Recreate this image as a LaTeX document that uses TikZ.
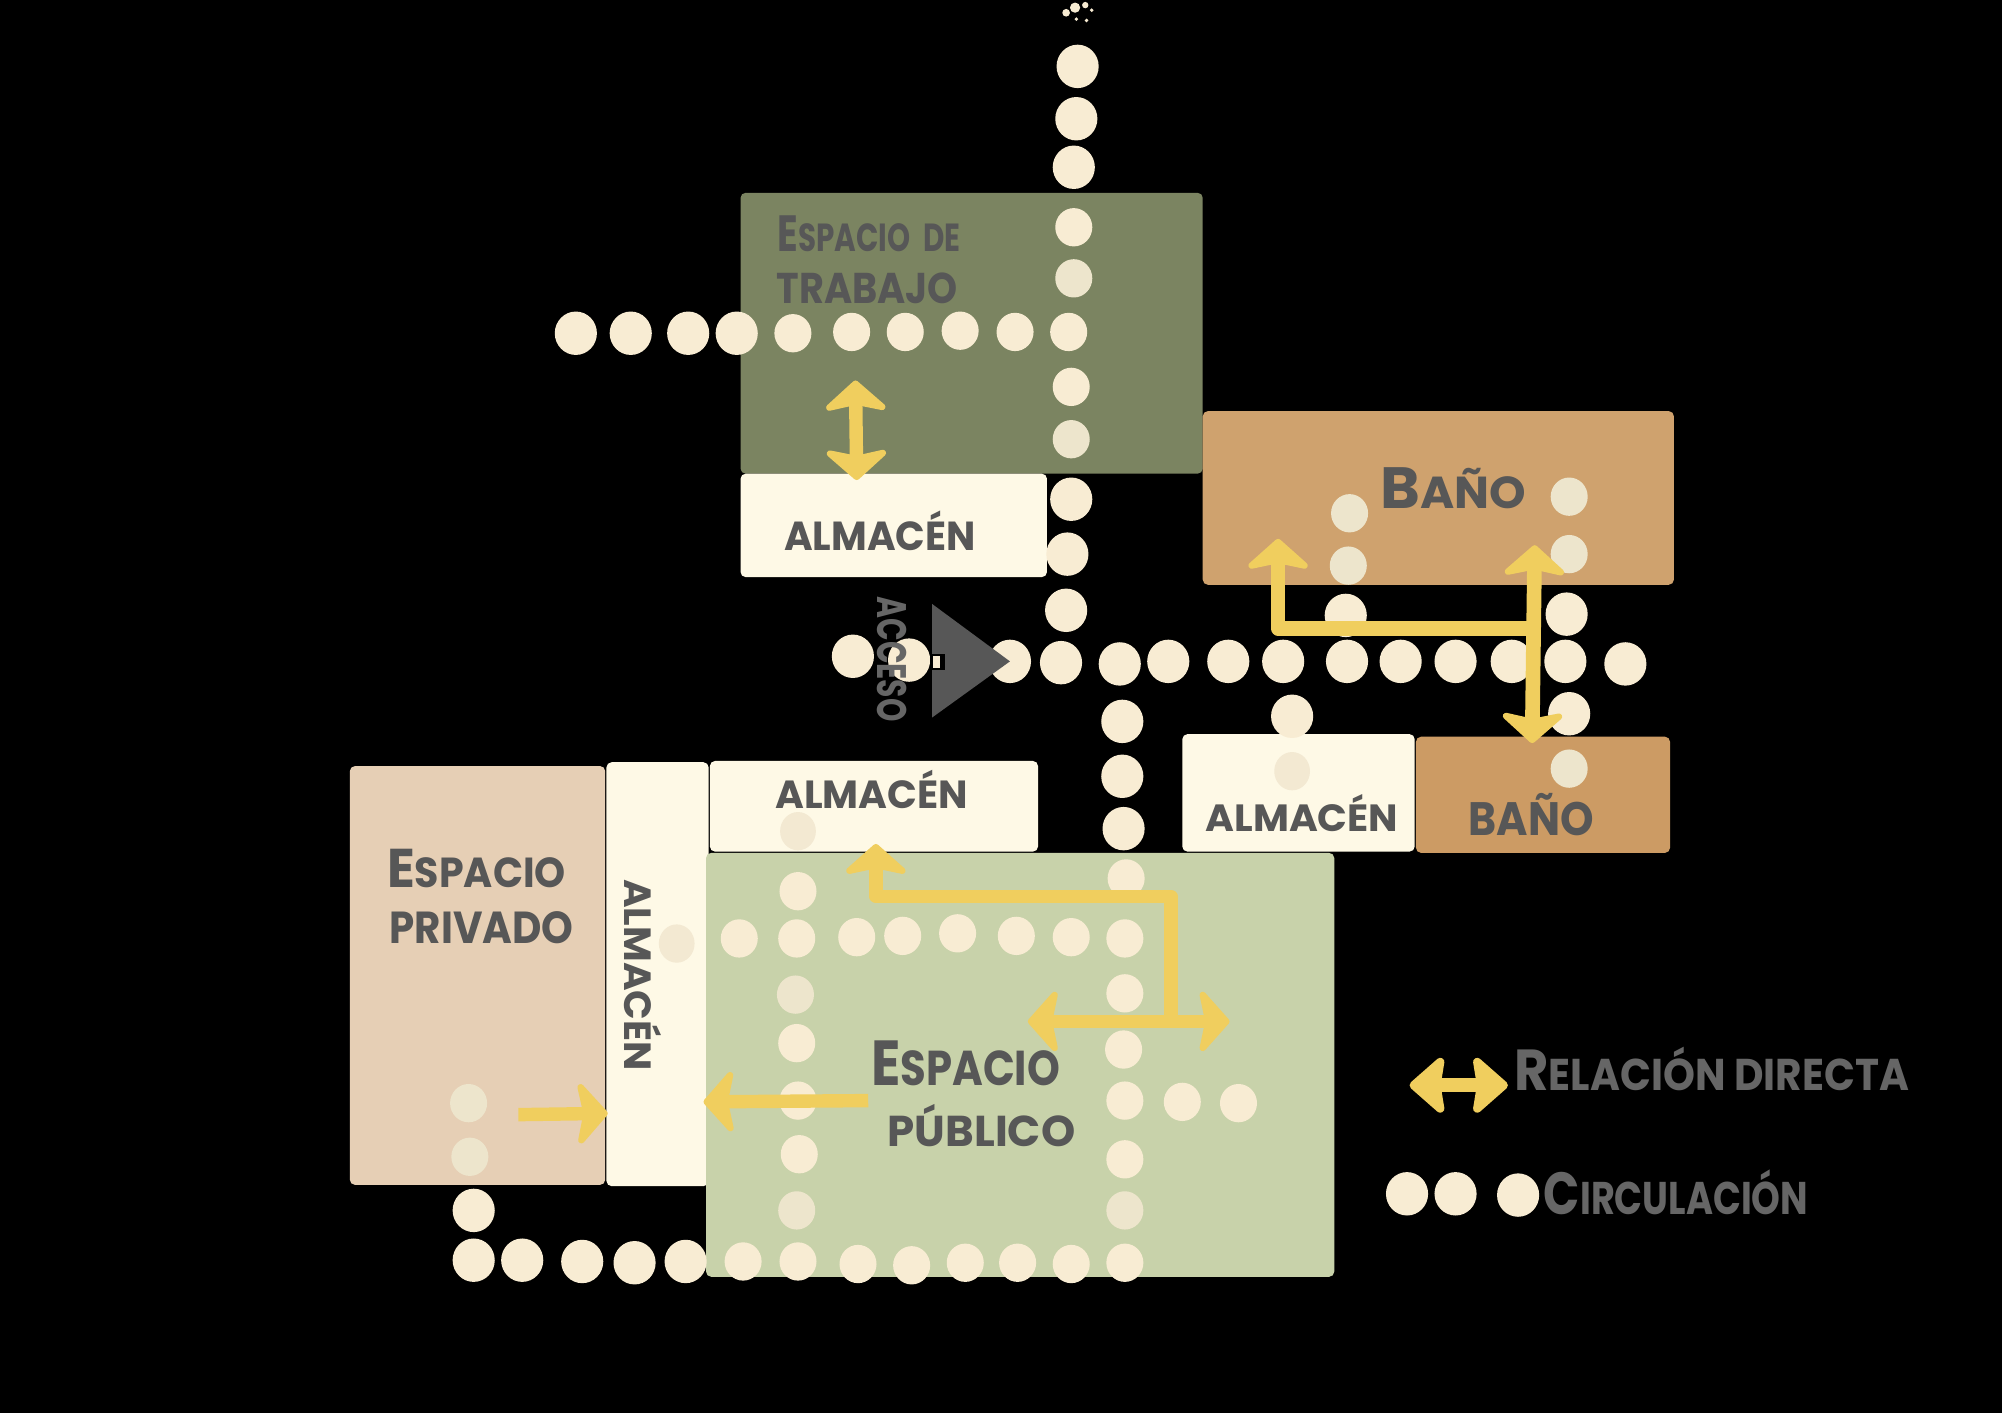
\documentclass[tikz,border=0pt]{standalone}
\usepackage{fontspec}
\usepackage{graphicx}
\setmainfont{Poppins}
\usetikzlibrary{arrows.meta}
\definecolor{trabajo}{HTML}{7B8461}
\definecolor{banoa}{HTML}{CFA26E}
\definecolor{banob}{HTML}{CC9B64}
\definecolor{almacen}{HTML}{FEF9E6}
\definecolor{privado}{HTML}{E6CFB5}
\definecolor{publico}{HTML}{C8D2AA}
\definecolor{dotc}{HTML}{F8ECD3}
\definecolor{dotb}{HTML}{EDE5CC}
\definecolor{dotf}{HTML}{F3E9D2}
\definecolor{arrowc}{HTML}{F0CE5E}
\definecolor{inkc}{HTML}{575757}
\definecolor{inkg}{HTML}{666666}
\newcommand\capl[1]{{\fontsize{13}{13}\selectfont #1}}
% \hand{name}{x}{baseline y}{width}{height}{rotation}{colour}{text}
\newcommand\hand[8]{\node[handtext,text=#7,rotate=#6] (#1) at (#2,#3) {\resizebox{#4pt}{#5pt}{\bfseries #8}};}
\tikzset{
  x=1pt,y=-1pt,
  room/.style={rounded corners=4pt},
  handtext/.style={inner sep=0pt,anchor=base west},
  dotout/.style={fill=dotc},
  relhead/.tip={Stealth[round,length=26pt,width=58pt,inset=6pt]},
  keyhead/.tip={Stealth[round,length=30pt,width=52pt,inset=4pt]},
  rel/.style={draw=arrowc,line width=10.5pt,line join=round,arrows={-relhead}},
  relboth/.style={draw=arrowc,line width=10.5pt,arrows={relhead-relhead}},
  relkey/.style={draw=arrowc,line width=11pt,arrows={keyhead-keyhead}}
}
\begin{document}
\begin{tikzpicture}
\useasboundingbox (0,0) rectangle (1568,1107);
\fill[black] (0,0) rectangle (1568,1107);
% rooms
\fill[room,trabajo] (580,151) rectangle (942,371);
\fill[room,banoa] (942,322) rectangle (1311,458);
\fill[room,almacen] (580,371) rectangle (820,452);
\fill[room,almacen] (926,575) rectangle (1108,667);
\fill[room,banob] (1109,577) rectangle (1308,668);
\fill[room,privado] (274,600) rectangle (474,928);
\fill[room,almacen] (475,597) rectangle (555,929);
\fill[room,almacen] (556,596) rectangle (813,667);
\fill[room,publico] (553,668) rectangle (1045,1000);
% circulation dots on the black ground
\foreach \p in {
 (844,52),(843,93),(841,131),(839,391),(836,434),(835,478),
 (451,261),(494,261),(539,261),(577,261),
 (668,514),(712,517),(791,518),(831,519),(877,520),(915,518),(962,518),(1005,518),(1055,518),(1097,518),(1140,518),(1184,518),(1226,518),(1273,520),
 (1054,482),(1227,481),(1012,561),(1229,559),
 (879,565),(879,608),(880,649),
 (371,948),(371,987),(409,987),(456,988),(497,989),(537,988),
 (1102,935),(1140,935),(1189,936)}
 {\fill[dotout] \p ellipse [x radius=16.5pt,y radius=17pt];}
% circulation dots inside the rooms
\foreach \p in {
 (841,178),(621,261),(667,260),(709,260),(752,259),(795,260),(837,260),(839,303),
 (579,735),(624,735),(671,734),(707,733),(750,731),(796,733),(839,734),(881,735),
 (625,698),(624,817),(625,862),(626,904),
 (881,778),(880,822),(881,862),(881,908),(882,688),
 (926,863),(970,864),
 (582,988),(625,988),(672,990),(714,991),(756,989),(797,989),(839,990),(881,989)}
 {\fill[dotc] \p ellipse [x radius=14.5pt,y radius=15pt];}
\foreach \p in {(841,218),(839,344),(1057,402),(1056,443),(1229,389),(1229,434),(1229,602),(623,779),(624,948),(881,948),(367,864),(368,906)}
 {\fill[dotb] \p ellipse [x radius=14.5pt,y radius=15pt];}
\foreach \p in {(1012,604),(530,739),(625,651)}
 {\fill[dotf] \p ellipse [x radius=14pt,y radius=15pt];}
% specks at the top edge
\foreach \p/\r in {(835,10)/3,(842,6)/4,(850,4)/2.5,(855,8)/1.5,(843,15)/1.5,(851,16)/1.5}
 {\fill[dotout] \p circle [radius=\r pt];}
% access triangle
\fill[inkc] (730,473) -- (791,518) -- (730,562) -- cycle;
\fill[black] (728,512) rectangle (740,525);
\fill[dotc] (731,514) rectangle (736,523);
% direct relation arrows
\coordinate (ta) at (670,298);
\coordinate (tb) at (671,376);
\draw[relboth] (ta) -- (tb);
\coordinate (ba) at (1001,422);
\coordinate (bb) at (1001,492);
\coordinate (bc) at (1201,492);
\coordinate (bd) at (1202,427);
\coordinate (be) at (1200,582);
\draw[rel,line width=11.5pt] (bc) -- (bb) -- (ba);
\draw[relboth,line width=11.5pt] (bd) -- (be);
\coordinate (pa) at (917,800);
\coordinate (pb) at (917,702);
\coordinate (pc) at (686,702);
\coordinate (pd) at (686,661);
\draw[rel] (pa) -- (pb) -- (pc) -- (pd);
\coordinate (qa) at (805,800);
\coordinate (qb) at (963,800);
\draw[relboth] (qa) -- (qb);
\coordinate (ra) at (680,862);
\coordinate (rb) at (551,863);
\draw[rel] (ra) -- (rb);
\coordinate (sa) at (406,873);
\coordinate (sb) at (476,872);
\draw[rel] (sa) -- (sb);
\coordinate (ka) at (1104,850);
\coordinate (kb) at (1181,850);
\draw[relkey] (ka) -- (kb);
% labels
\hand{t1}{609}{197}{143}{28}{0}{inkc}{\capl{E}SPACIO\ \ DE}
\hand{t2}{608}{238}{142}{24}{0}{inkc}{TRABAJO}
\hand{a1}{614}{431}{150}{31}{0}{inkc}{ALMACÉN}
\hand{b1}{1081}{398}{114}{32}{0}{inkc}{\capl{B}AÑO}
\hand{a2}{607}{633}{151}{30}{0}{inkc}{ALMACÉN}
\hand{a3}{944}{651}{151}{29}{0}{inkc}{ALMACÉN}
\hand{b2}{1150}{654}{98}{33}{0}{inkc}{BAÑO}
\hand{v1}{303}{695}{140}{30}{0}{inkc}{\capl{E}SPACIO}
\hand{v2}{305}{739}{144}{25}{0}{inkc}{PRIVADO}
\hand{a4}{489}{688.5}{150}{29}{-90}{inkc}{ALMACÉN}
\hand{u1}{682}{850}{148}{35}{0}{inkc}{\capl{E}SPACIO}
\hand{u2}{695}{898}{147}{33}{0}{inkc}{PÚBLICO}
\hand{ac}{687}{467}{98}{23}{-90}{inkg}{ACCESO}
\hand{k1}{1186}{854}{309}{34}{0}{inkg}{\capl{R}ELACIÓN DIRECTA}
\hand{k2}{1209}{951}{207}{35}{0}{inkg}{\capl{C}IRCULACIÓN}
\end{tikzpicture}
\end{document}
